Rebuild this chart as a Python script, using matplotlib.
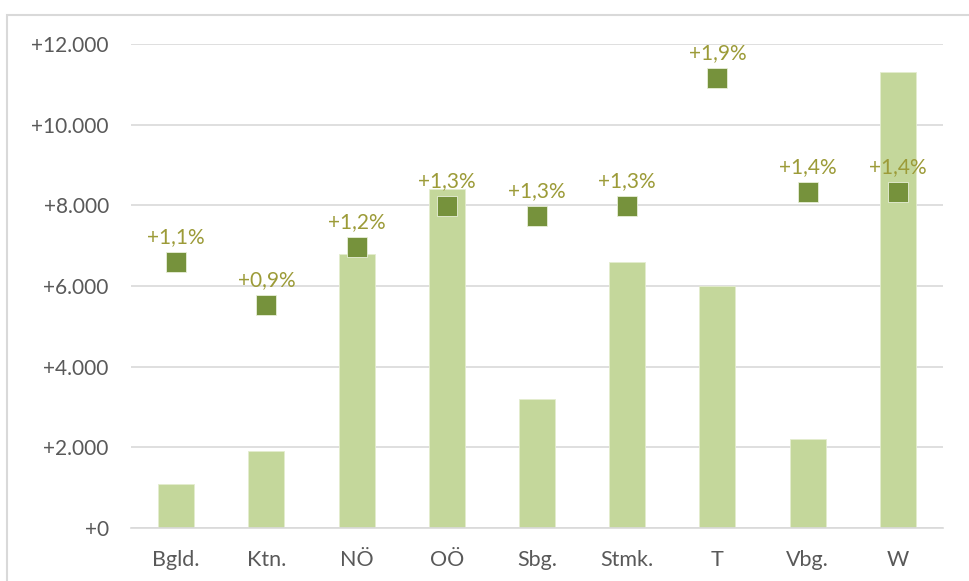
import matplotlib.pyplot as plt
from matplotlib.patches import Rectangle
from matplotlib.ticker import FuncFormatter

regions = ["Bgld.", "Ktn.", "NÖ", "OÖ", "Sbg.", "Stmk.", "T", "Vbg.", "W"]
change_abs = [1100, 1900, 6800, 8400, 3200, 6600, 6000, 2200, 11300]
change_pct = [1.10, 0.92, 1.16, 1.33, 1.29, 1.33, 1.86, 1.39, 1.39]
y_ticks = [0, 2000, 4000, 6000, 8000, 10000, 12000]

bar_color = "#C4D79B"
marker_color = "#76923C"
label_color = "#9C9B38"
grid_color = "#D9D9D9"
text_color = "#595959"

plt.rcParams["font.family"] = ["Lato", "DejaVu Sans"]

fig = plt.figure(figsize=(9.69, 5.81), dpi=100)
ax = fig.add_axes([131 / 969, 53 / 581, 812 / 969, 484 / 581])

# outer chart frame (runs off the right and bottom edge)
fig.patches.append(Rectangle((7 / 969, -0.05), 1.0, (581 - 15) / 581 + 0.05,
                             transform=fig.transFigure, fill=False,
                             edgecolor=grid_color, linewidth=1.5))

x = list(range(len(regions)))
ax.bar(x, change_abs, width=0.4, color=bar_color, edgecolor="#E4EDCF",
       linewidth=0.6, zorder=2)

ax.set_xlim(-0.5, len(regions) - 0.5)
ax.set_ylim(0, 12000)
ax.set_yticks(y_ticks)
ax.yaxis.set_major_formatter(FuncFormatter(lambda v, _: "+" + f"{int(v):,}".replace(",", ".")))
ax.set_xticks(x)
ax.set_xticklabels(regions)
ax.tick_params(axis="y", length=0, pad=16, labelsize=15, labelcolor=text_color)
ax.tick_params(axis="x", length=0, pad=16, labelsize=15.5, labelcolor=text_color)
ax.grid(axis="y", color=grid_color, linewidth=1.2)
ax.set_axisbelow(True)
for s in ["top", "right", "left"]:
    ax.spines[s].set_visible(False)
ax.spines["bottom"].set_color(grid_color)
ax.spines["bottom"].set_linewidth(1.2)

# percentage change on a hidden secondary axis
ax2 = ax.twinx()
ax2.set_ylim(0, 2.0)
ax2.plot(x, change_pct, linestyle="none", marker="s", markersize=14.5,
         markerfacecolor=marker_color, markeredgecolor="#E8EFD8",
         markeredgewidth=0.6, zorder=3)
for xi, p in zip(x, change_pct):
    ax2.annotate("+" + f"{p:.1f}".replace(".", ",") + "%", (xi, p),
                 xytext=(0, 18), textcoords="offset points",
                 ha="center", va="center", fontsize=15, color=label_color)
ax2.set_yticks([])
for s in ax2.spines.values():
    s.set_visible(False)

fig.savefig("out.png", dpi=100)
